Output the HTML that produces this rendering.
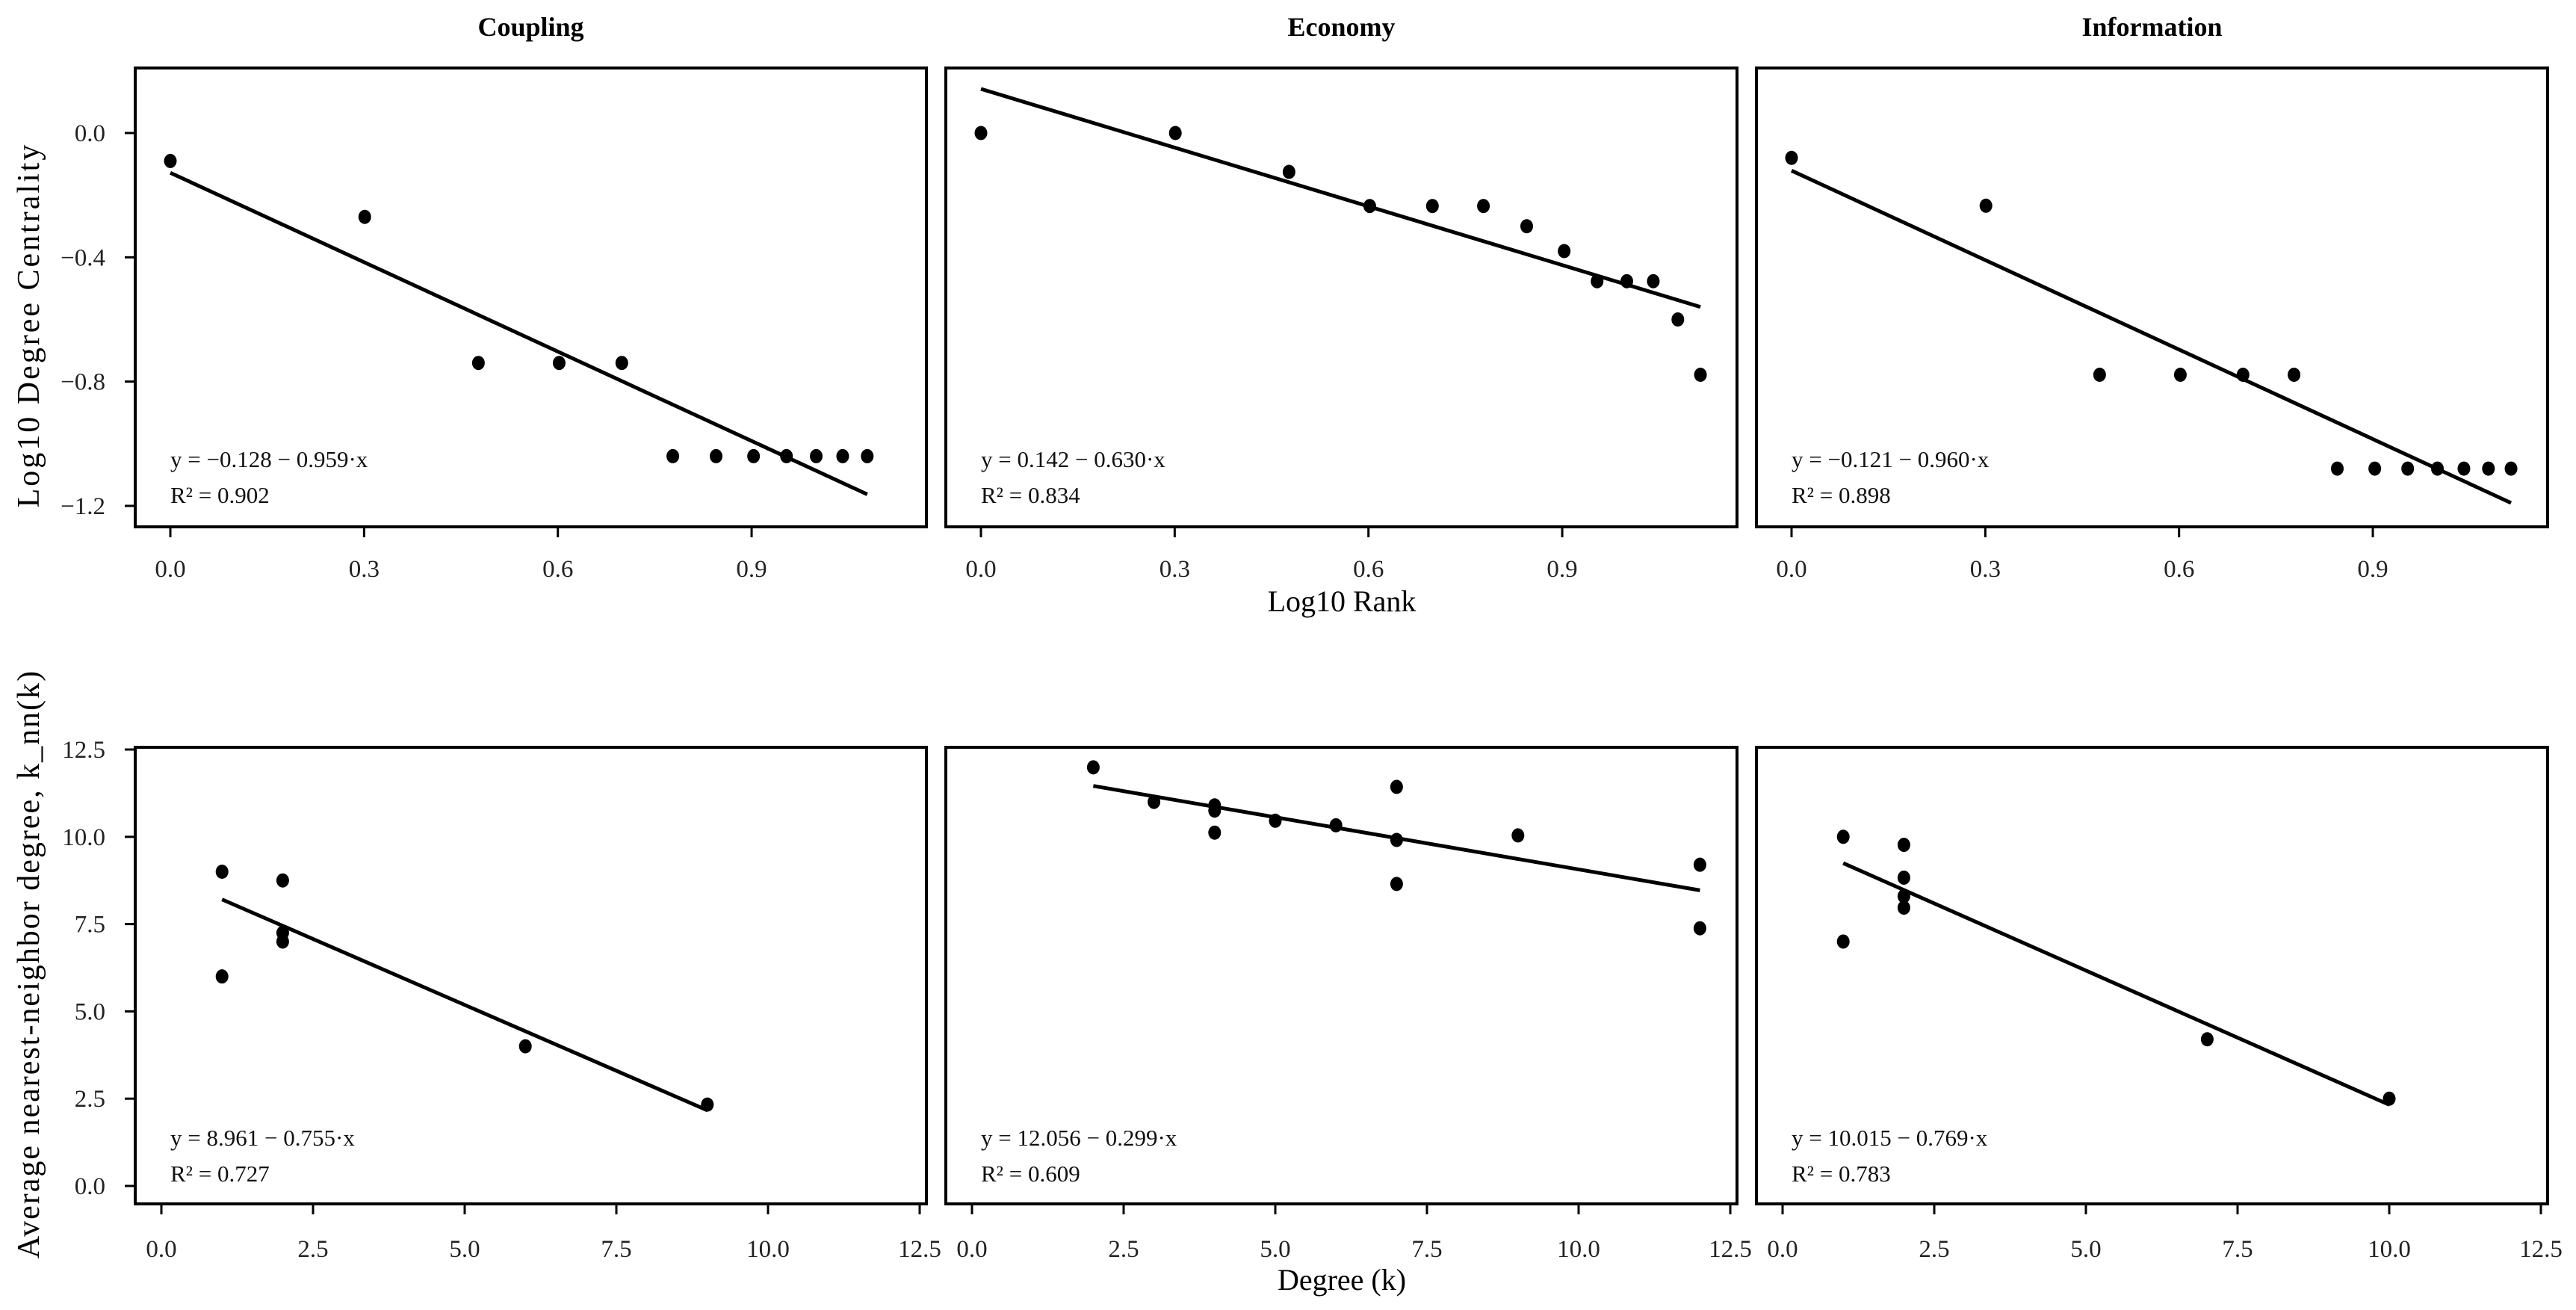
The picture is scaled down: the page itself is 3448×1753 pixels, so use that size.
<!DOCTYPE html>
<html><head><meta charset="utf-8"><style>
html,body{margin:0;padding:0;background:#fff;}
svg{display:block;font-family:"Liberation Serif",serif;}
</style></head><body>
<svg id="fig" width="3448" height="1753" viewBox="0 0 3448 1753" xmlns="http://www.w3.org/2000/svg"></svg>
<script>
// ---- data ----
const panelTitles = ["Coupling","Economy","Information"];
const rankX = [0,0.301,0.477,0.602,0.699,0.778,0.845,0.903,0.954,1.0,1.041,1.079,1.114];
const couplingRankY = [-0.09,-0.27,-0.74,-0.74,-0.74,-1.04,-1.04,-1.04,-1.04,-1.04,-1.04,-1.04];
const economyRankY = [0,0,-0.125,-0.235,-0.235,-0.235,-0.30,-0.38,-0.477,-0.477,-0.477,-0.60,-0.778];
const informationRankY = [-0.08,-0.234,-0.778,-0.778,-0.778,-0.778,-1.08,-1.08,-1.08,-1.08,-1.08,-1.08,-1.08];
const rankFitA = [-0.128,0.142,-0.121];
const rankFitB = [-0.959,-0.630,-0.960];
const rankR2 = ["0.902","0.834","0.898"];
const couplingDegX = [1,1,2,2,2,6,9];
const couplingDegY = [9.0,6.0,8.75,7.25,7.0,4.0,2.33];
const economyDegX = [2,3,4,4,4,5,6,7,7,7,9,12,12];
const economyDegY = [11.99,11.0,10.9,10.75,10.12,10.46,10.33,11.43,9.91,8.65,10.04,9.2,7.38];
const informationDegX = [1,1,2,2,2,2,7,10];
const informationDegY = [10.0,7.0,9.77,8.83,8.3,7.97,4.2,2.5];
const degFitA = [8.961,12.056,10.015];
const degFitB = [-0.755,-0.299,-0.769];
const degR2 = ["0.727","0.609","0.783"];
const rankXTicks = [0,0.3,0.6,0.9];
const rankXTickLabels = ["0.0","0.3","0.6","0.9"];
const rankYTicks = [0,-0.4,-0.8,-1.2];
const rankYTickLabels = ["0.0","-0.4","-0.8","-1.2"];
const degXTicks = [0,2.5,5,7.5,10,12.5];
const degXTickLabels = ["0.0","2.5","5.0","7.5","10.0","12.5"];
const degYTicks = [0,2.5,5,7.5,10,12.5];
const degYTickLabels = ["0.0","2.5","5.0","7.5","10.0","12.5"];

// ---- layout ----
const NS="http://www.w3.org/2000/svg";
const svg=document.getElementById('fig');
const boxLefts=[181,1266,2351], boxW=1059;
function el(tag,attrs,parent,text){const e=document.createElementNS(NS,tag);for(const k in attrs)e.setAttribute(k,attrs[k]);if(text!==undefined)e.textContent=text;(parent||svg).appendChild(e);return e;}
function fmt(v){return (v<0?"\u2212":"")+Math.abs(v).toFixed(3);}

function panel(i,row,xs,ys,a,b,r2,cfg,eqA){
  const L=boxLefts[i], T=cfg.top, B=cfg.bottom;
  const sx=v=>L+cfg.x0off+v*cfg.xs;
  const sy=v=>cfg.y0-v*cfg.ys;
  const g=el('g',{});
  
  
  const box=el('rect',{x:L,y:T,width:boxW,height:B-T,fill:'none',stroke:'#000','stroke-width':4},g);
  
  
  cfg.xt.forEach((t,k)=>{
    const x=sx(t);
    const tk=el('line',{x1:x,x2:x,y1:B,y2:B+14,stroke:'#000','stroke-width':3},g);
    
    
    const tl=el('text',{x:x,y:cfg.xLabY,'font-size':33,'text-anchor':'middle',fill:'#222'},g,cfg.xl[k]);
    
    
  });
  if(i===0){
    cfg.yt.forEach((t,k)=>{
      const y=sy(t);
      const tk=el('line',{x1:L-14,x2:L,y1:y,y2:y,stroke:'#000','stroke-width':3},g);
      
      
      const tl=el('text',{x:L-40,y:y+11,'font-size':33,'text-anchor':'end',fill:'#222'},g,cfg.yl[k].replace('-','\u2212'));
      
      
    });
  }
  const x0=Math.min(...xs), x1=Math.max(...xs);
  const ln=el('line',{x1:sx(x0),y1:sy(a+b*x0),x2:sx(x1),y2:sy(a+b*x1),stroke:'#000','stroke-width':5},g);
  
  
  xs.forEach((xv,k)=>{
    const c=el('ellipse',{cx:sx(xv),cy:sy(ys[k]),rx:8.5,ry:9.5,fill:'#000'},g);
    
    
  });
  const eq=el('text',{x:L+47,y:cfg.eqY,'font-size':31,fill:'#111'},g,'y = '+fmt(a)+' \u2212 '+Math.abs(b).toFixed(3)+'\u00b7x');
  
  
  const r=el('text',{x:L+47,y:cfg.eqY+48,'font-size':31,fill:'#111'},g,'R\u00b2 = '+r2);
  
  
}

const topCfg={top:91,bottom:705,y0:178,ys:415.8,xs:864.5,x0off:47,xt:rankXTicks,xl:rankXTickLabels,yt:rankYTicks,yl:rankYTickLabels,xLabY:772,eqY:625};
const botCfg={top:1000,bottom:1611,y0:1587,ys:46.72,xs:81.2,x0off:35,xt:degXTicks,xl:degXTickLabels,yt:degYTicks,yl:degYTickLabels,xLabY:1682,eqY:1533};

const rankYs=[couplingRankY,economyRankY,informationRankY];
const degXs=[couplingDegX,economyDegX,informationDegX];
const degYs=[couplingDegY,economyDegY,informationDegY];
[0,1,2].forEach(i=>{
  panel(i,0,rankX.slice(0,rankYs[i].length),rankYs[i],rankFitA[i],rankFitB[i],rankR2[i],topCfg);
  panel(i,1,degXs[i],degYs[i],degFitA[i],degFitB[i],degR2[i],botCfg);
});

panelTitles.forEach((t,i)=>{
  const tt=el('text',{x:boxLefts[i]+boxW/2,y:48,'font-size':36,'font-weight':'bold','text-anchor':'middle'},svg,t);
  
  
});
const xl1=el('text',{x:1796,y:818,'font-size':40,'text-anchor':'middle'},svg,'Log10 Rank');


const xl2=el('text',{x:1796,y:1726,'font-size':40,'text-anchor':'middle'},svg,'Degree (k)');


const yl1=el('text',{x:0,y:0,'font-size':42,'letter-spacing':3,'text-anchor':'middle',transform:'translate(52,435) rotate(-90)'},svg,'Log10 Degree Centrality');


const yl2=el('text',{x:0,y:0,'font-size':42,'letter-spacing':2,'text-anchor':'middle',transform:'translate(52,1290) rotate(-90)'},svg,'Average nearest-neighbor degree, k_nn(k)');


</script>
</body></html>
